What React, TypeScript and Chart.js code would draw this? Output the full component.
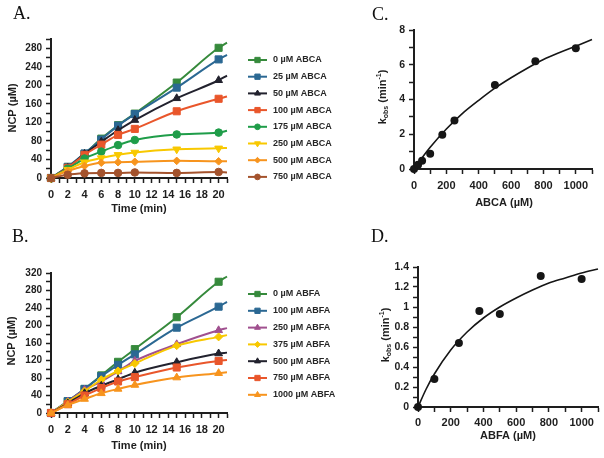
import React, { useEffect, useRef } from 'react';
import { Chart, registerables } from 'chart.js';
import { drawPoint } from 'chart.js/helpers';

Chart.register(...registerables);

// ---------- data ----------
const timesMin = [0, 2, 4, 6, 8, 10, 15, 20, 21]; // last point = end of fitted curve

const abcaLabels = ['0 µM ABCA', '25 µM ABCA', '50 µM ABCA', '100 µM ABCA', '175 µM ABCA', '250 µM ABCA', '500 µM ABCA', '750 µM ABCA'];
const abca0 = [0, 24, 52, 85, 114, 139, 206, 281, 292];
const abca25 = [0, 24, 53, 83, 113, 138, 195, 256, 266];
const abca50 = [0, 22, 52, 78, 103, 125, 172, 211, 221];
const abca100 = [0, 22, 50, 72, 93, 106, 144, 171, 176];
const abca175 = [0, 20, 42, 57, 71, 82, 94, 98, 102];
const abca250 = [0, 18, 34, 43, 50, 55, 62, 64, 65];
const abca500 = [0, 15, 26, 33, 34, 35, 37, 36, 36];
const abca750 = [0, 7, 10, 11, 11, 12, 11, 13, 12];

const abfaLabels = ['0 µM ABFA', '100 µM ABFA', '250 µM ABFA', '375 µM ABFA', '500 µM ABFA', '750 µM ABFA', '1000 µM ABFA'];
const abfa0 = [0, 27, 55, 86, 117, 146, 219, 300, 312];
const abfa100 = [0, 27, 55, 84, 110, 134, 195, 243, 254];
const abfa250 = [0, 26, 53, 72, 95, 119, 157, 189, 194];
const abfa375 = [0, 25, 50, 76, 96, 113, 154, 174, 178];
const abfa500 = [0, 22, 45, 62, 77, 92, 116, 136, 138];
const abfa750 = [0, 20, 40, 57, 72, 82, 104, 119, 121];
const abfa1000 = [0, 18, 32, 45, 55, 64, 81, 91, 93];

const abcaConc = [0, 25, 50, 100, 175, 250, 500, 750, 1000];
const abcaKobs = [0, 0.25, 0.48, 0.88, 1.97, 2.79, 4.84, 6.2, 6.95];
const abcaFitConc = [0, 50, 100, 200, 300, 400, 500, 600, 700, 800, 900, 1000, 1100];
const abcaFitKobs = [0, 0.65, 1.25, 2.3, 3.2, 3.95, 4.65, 5.25, 5.8, 6.3, 6.7, 7.07, 7.45];

const abfaConc = [0, 100, 250, 375, 500, 750, 1000];
const abfaKobs = [0, 0.28, 0.64, 0.96, 0.93, 1.31, 1.28];
const abfaFitConc = [0, 50, 100, 200, 300, 400, 500, 600, 700, 800, 900, 1000, 1100];
const abfaFitKobs = [0, 0.18, 0.33, 0.57, 0.75, 0.89, 1.0, 1.09, 1.17, 1.24, 1.29, 1.34, 1.38];

const timeTickLabels = [0, 2, 4, 6, 8, 10, 12, 14, 16, 18, 20];
const ncpTickLabelsA = [0, 40, 80, 120, 160, 200, 240, 280];
const ncpTickLabelsB = [0, 40, 80, 120, 160, 200, 240, 280, 320];
const concTickLabels = [0, 200, 400, 600, 800, 1000];
const kobsTickLabelsC = [0, 2, 4, 6, 8];
const kobsTickLabelsD = [0, 0.2, 0.4, 0.6, 0.8, 1, 1.2, 1.4];

// ---------- styles ----------
const FONT = "'Liberation Sans', Arial, Helvetica, sans-serif";
const SERIF = "'Liberation Serif', 'Times New Roman', serif";
const INK = '#1e1e1e';

type Marker = { color: string; style: string; radius: number; rotation?: number };

const abcaMarkers: Marker[] = [
  { color: '#368a3c', style: 'rect', radius: 5 },
  { color: '#2b6893', style: 'rect', radius: 5 },
  { color: '#22222e', style: 'triangle', radius: 4.5 },
  { color: '#e9562b', style: 'rect', radius: 5 },
  { color: '#1f9d49', style: 'circle', radius: 3.8 },
  { color: '#f8c800', style: 'triangle', radius: 4.5, rotation: 180 },
  { color: '#f7941e', style: 'rectRot', radius: 3.8 },
  { color: '#a4532d', style: 'circle', radius: 3.8 },
];
const abfaMarkers: Marker[] = [
  { color: '#368a3c', style: 'rect', radius: 5 },
  { color: '#2b6893', style: 'rect', radius: 5 },
  { color: '#a0508f', style: 'triangle', radius: 4.5 },
  { color: '#f8c800', style: 'rectRot', radius: 4 },
  { color: '#22222e', style: 'triangle', radius: 4.5 },
  { color: '#e9562b', style: 'rect', radius: 5 },
  { color: '#f7941e', style: 'triangle', radius: 4.5 },
];

function timeDatasets(labels: string[], series: number[][], markers: Marker[]) {
  return series.map((vals, i) => {
    const m = markers[i];
    return {
      label: labels[i],
      data: vals.map((v, j) => ({ x: timesMin[j], y: v })),
      borderColor: m.color,
      backgroundColor: m.color,
      borderWidth: 2,
      pointStyle: m.style,
      pointRotation: m.rotation || 0,
      legendRadius: m.radius * 0.75,
      pointRadius: (c: any) => (c.dataIndex === timesMin.length - 1 ? 0 : m.radius),
      pointBorderWidth: 1,
      cubicInterpolationMode: 'monotone',
      clip: false,
      order: series.length - i,
    };
  });
}

function labelCallback(list: number[]) {
  return (v: any) => {
    const n = Number(v);
    for (const l of list) if (Math.abs(n - l) < 1e-6) return String(l);
    return '';
  };
}

function axis(min: number, max: number, step: number, list: number[], size: number, pad: number, fit: (s: any) => void) {
  return {
    type: 'linear',
    min,
    max,
    border: { display: true, color: INK, width: 2 },
    grid: { display: true, drawOnChartArea: false, drawTicks: true, tickLength: 5, tickColor: INK, tickWidth: 1.5 },
    ticks: {
      stepSize: step,
      maxTicksLimit: 200,
      autoSkip: false,
      maxRotation: 0,
      minRotation: 0,
      padding: pad,
      color: INK,
      font: { family: FONT, size, weight: 'bold' },
      callback: labelCallback(list),
    },
    afterFit: fit,
  };
}

function drawRotated(ctx: CanvasRenderingContext2D, cx: number, cy: number, parts: { t: string; f: string; dy: number }[]) {
  ctx.save();
  ctx.translate(cx, cy);
  ctx.rotate(-Math.PI / 2);
  ctx.textBaseline = 'middle';
  ctx.textAlign = 'left';
  let total = 0;
  for (const p of parts) {
    ctx.font = p.f;
    total += ctx.measureText(p.t).width;
  }
  let x = -total / 2;
  for (const p of parts) {
    ctx.font = p.f;
    ctx.fillText(p.t, x, p.dy);
    x += ctx.measureText(p.t).width;
  }
  ctx.restore();
}

const decorPlugin = {
  id: 'decor',
  afterDraw(chart: any, _args: any, opts: any) {
    const ctx: CanvasRenderingContext2D = chart.ctx;
    ctx.save();
    ctx.fillStyle = '#111';
    ctx.font = `18px ${SERIF}`;
    ctx.textAlign = 'left';
    ctx.textBaseline = 'alphabetic';
    ctx.fillText(opts.letter, opts.letterX, opts.letterY);

    ctx.fillStyle = INK;
    ctx.font = `bold 11px ${FONT}`;
    ctx.textAlign = 'center';
    ctx.textBaseline = 'middle';
    ctx.fillText(opts.xTitle, opts.xTitleX, opts.xTitleY);

    const big = `bold 11px ${FONT}`;
    const small = `bold 7px ${FONT}`;
    if (opts.kobs) {
      drawRotated(ctx, opts.yTitleX, opts.yTitleY, [
        { t: 'k', f: big, dy: 0 },
        { t: 'obs', f: small, dy: 3 },
        { t: ' (min', f: big, dy: 0 },
        { t: '-1', f: small, dy: -4 },
        { t: ')', f: big, dy: 0 },
      ]);
    } else {
      drawRotated(ctx, opts.yTitleX, opts.yTitleY, [{ t: opts.yTitle, f: big, dy: 0 }]);
    }

    if (opts.legend) {
      const L = opts.legend;
      chart.data.datasets.forEach((ds: any, i: number) => {
        const y = L.y0 + i * L.dy;
        ctx.strokeStyle = ds.borderColor;
        ctx.lineWidth = 2;
        ctx.beginPath();
        ctx.moveTo(L.x0, y);
        ctx.lineTo(L.x1, y);
        ctx.stroke();
        ctx.fillStyle = ds.backgroundColor;
        ctx.lineWidth = 1;
        drawPoint(ctx, { pointStyle: ds.pointStyle, rotation: ds.pointRotation, radius: ds.legendRadius, borderWidth: 1 } as any, (L.x0 + L.x1) / 2, y);
        ctx.fillStyle = '#262626';
        ctx.font = `bold 9px ${FONT}`;
        ctx.textAlign = 'left';
        ctx.textBaseline = 'middle';
        ctx.fillText(ds.label, L.tx, y);
      });
    }
    ctx.restore();
  },
};

function PanelChart({ left, top, width, height, config }: any) {
  const ref = useRef<HTMLCanvasElement>(null);
  useEffect(() => {
    if (!ref.current) return;
    const chart = new Chart(ref.current, { ...config, plugins: [decorPlugin] });
    return () => chart.destroy();
  }, []);
  return (
    <canvas
      ref={ref}
      width={width}
      height={height}
      style={{ position: 'absolute', left, top, width, height }}
    />
  );
}

function baseOptions(layout: { padTop: number; padRight: number }, x: any, y: any, decor: any) {
  return {
    responsive: false,
    animation: false,
    devicePixelRatio: 1,
    layout: { padding: { left: 0, top: layout.padTop, right: layout.padRight, bottom: 0 } },
    plugins: { legend: { display: false }, title: { display: false }, tooltip: { enabled: false }, decor },
    scales: { x, y },
  };
}

// A/B canvases are 350 wide (legend text runs past the mid-line); chart right edge at 227
const configA = {
  type: 'line',
  data: { datasets: timeDatasets(abcaLabels, [abca0, abca25, abca50, abca100, abca175, abca250, abca500, abca750], abcaMarkers) },
  options: baseOptions(
    { padTop: 39, padRight: 123 },
    axis(0, 21, 1, timeTickLabels, 11, 5, (s: any) => { s.height = 47; }),
    axis(0, 300, 20, ncpTickLabelsA, 10, 4, (s: any) => { s.width = 51; }),
    {
      letter: 'A.', letterX: 13, letterY: 19,
      xTitle: 'Time (min)', xTitleX: 139, xTitleY: 209,
      yTitle: 'NCP (µM)', yTitleX: 13, yTitleY: 108,
      legend: { x0: 248, x1: 267, tx: 273, y0: 60, dy: 16.7 },
    }
  ),
};

const configB = {
  type: 'line',
  data: { datasets: timeDatasets(abfaLabels, [abfa0, abfa100, abfa250, abfa375, abfa500, abfa750, abfa1000], abfaMarkers) },
  options: baseOptions(
    { padTop: 48, padRight: 123 },
    axis(0, 21, 1, timeTickLabels, 11, 5, (s: any) => { s.height = 45; }),
    axis(0, 320, 20, ncpTickLabelsB, 10, 4, (s: any) => { s.width = 51; }),
    {
      letter: 'B.', letterX: 12, letterY: 17,
      xTitle: 'Time (min)', xTitleX: 139, xTitleY: 221,
      yTitle: 'NCP (µM)', yTitleX: 12, yTitleY: 116,
      legend: { x0: 248, x1: 267, tx: 273, y0: 69, dy: 16.8 },
    }
  ),
};

function kineticsDatasets(conc: number[], kobs: number[], fitConc: number[], fitKobs: number[]) {
  return [
    {
      type: 'scatter',
      label: 'data',
      data: conc.map((c, i) => ({ x: c, y: kobs[i] })),
      backgroundColor: '#161616',
      borderColor: '#161616',
      pointRadius: 4,
      pointBorderWidth: 0,
      showLine: false,
      clip: false,
    },
    {
      type: 'line',
      label: 'fit',
      data: fitConc.map((c, i) => ({ x: c, y: fitKobs[i] })),
      borderColor: '#161616',
      borderWidth: 1.6,
      pointRadius: 0,
      cubicInterpolationMode: 'monotone',
      clip: false,
    },
  ];
}

const configC = {
  type: 'line',
  data: { datasets: kineticsDatasets(abcaConc, abcaKobs, abcaFitConc, abcaFitKobs) },
  options: baseOptions(
    { padTop: 30, padRight: 12 },
    axis(0, 1100, 100, concTickLabels, 11, 5, (s: any) => { s.height = 56; }),
    axis(0, 8, 1, kobsTickLabelsC, 10.5, 4, (s: any) => { s.width = 112; }),
    {
      letter: 'C.', letterX: 70, letterY: 20,
      xTitle: 'ABCA (µM)', xTitleX: 202, xTitleY: 203,
      kobs: true, yTitleX: 81, yTitleY: 97,
    }
  ),
};

const configD = {
  type: 'line',
  data: { datasets: kineticsDatasets(abfaConc, abfaKobs, abfaFitConc, abfaFitKobs) },
  options: baseOptions(
    { padTop: 42, padRight: 6 },
    axis(0, 1100, 100, concTickLabels, 11, 4, (s: any) => { s.height = 51; }),
    axis(0, 1.4, 0.1, kobsTickLabelsD, 10.5, 4, (s: any) => { s.width = 116; }),
    {
      letter: 'D.', letterX: 69, letterY: 17,
      xTitle: 'ABFA (µM)', xTitleX: 206, xTitleY: 211,
      kobs: true, yTitleX: 84, yTitleY: 110,
    }
  ),
};

export default function App() {
  return (
    <div style={{ position: 'absolute', left: 0, top: 0, width: 604, height: 458, background: '#fff', overflow: 'hidden' }}>
      <PanelChart left={0} top={0} width={350} height={225} config={configA} />
      <PanelChart left={0} top={225} width={350} height={233} config={configB} />
      <PanelChart left={302} top={0} width={302} height={225} config={configC} />
      <PanelChart left={302} top={225} width={302} height={233} config={configD} />
    </div>
  );
}
